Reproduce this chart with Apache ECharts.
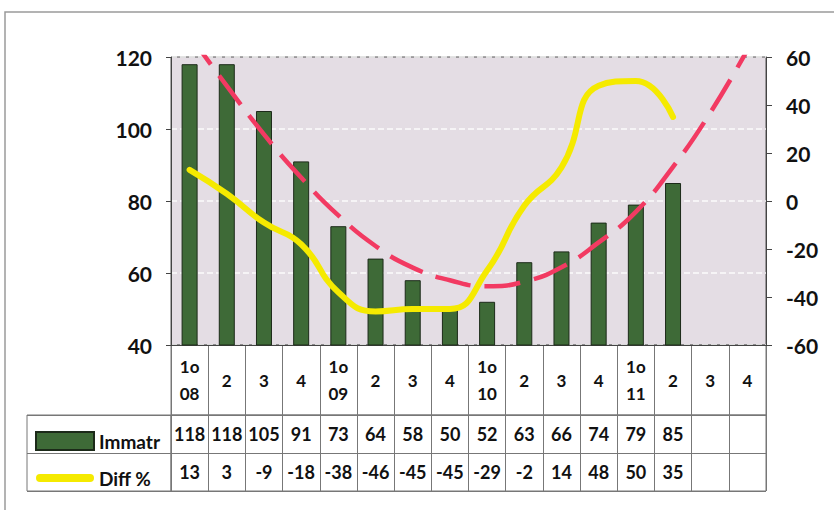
<!DOCTYPE html>
<html>
<head>
<meta charset="utf-8">
<style>
  html, body { margin: 0; padding: 0; background: #fff; }
  #chart { width: 834px; height: 510px; }
</style>
<script src="https://cdn.jsdelivr.net/npm/echarts@6/dist/echarts.min.js"></script>
</head>
<body>
<div id="chart"></div>
<script>
(function() {
  // quarters 2008 Q1 .. 2011 Q4
  var categories = ['08Q1', '08Q2', '08Q3', '08Q4', '09Q1', '09Q2', '09Q3', '09Q4',
                    '10Q1', '10Q2', '10Q3', '10Q4', '11Q1', '11Q2', '11Q3', '11Q4'];
  var catLabels = ['1o\n08', '2', '3', '4', '1o\n09', '2', '3', '4',
                   '1o\n10', '2', '3', '4', '1o\n11', '2', '3', '4'];
  var immatr = [118, 118, 105, 91, 73, 64, 58, 50, 52, 63, 66, 74, 79, 85];
  var diff = [13, 3, -9, -18, -38, -46, -45, -45, -29, -2, 14, 48, 50, 35];
  // hand-drawn trend (left axis)
  var trend = [126, 112, 98.5, 86.5, 76, 67.5, 61.5, 58, 56.3, 57.6, 61.6, 68.5, 77, 89.5, 104.5, 122];
  var leftTicks = [40, 120, 20];
  var rightTicks = [-60, 60, 20];

  var font = "Lato, 'Open Sans', Arial, sans-serif";
  var ink = '#111';
  var rule = '#777';

  var chart = echarts.init(document.getElementById('chart'), null, { renderer: 'svg' });

  function cell(arr) {
    return function(v, i) { return arr[i] == null ? '' : String(arr[i]); };
  }

  chart.setOption({
    animation: false,
    backgroundColor: '#fff',
    textStyle: { fontFamily: font },
    graphic: [{
      type: 'rect',
      shape: { x: 5, y: 12, width: 840, height: 510 },
      style: { fill: null, stroke: '#9a9a9a', lineWidth: 1.5 },
      z: -10
    }],
    legend: {
      orient: 'vertical',
      left: 30,
      top: 426,
      itemWidth: 58,
      itemHeight: 18,
      itemGap: 17,
      data: [
        { name: 'Immatr', icon: 'rect' },
        { name: 'Diff %', icon: 'path://M0,0 M0,18 M4,5 H54 A4,4 0 0 1 54,13 H4 A4,4 0 0 1 4,5 Z' }
      ],
      textStyle: { color: ink, fontSize: 19, lineHeight: 20, fontWeight: 'bold', fontFamily: font }
    },
    grid: [
      { left: 171, top: 57, width: 595, height: 288, show: true, backgroundColor: '#e4dde4', borderColor: '#555', borderWidth: 1 },
      { left: 171, top: 345, width: 595, height: 70, show: true, borderColor: rule, borderWidth: 1 },
      { left: 171, top: 415, width: 595, height: 76, show: true, borderColor: rule, borderWidth: 1 },
      { left: 27, top: 415, width: 144, height: 76, show: true, borderColor: rule, borderWidth: 1 }
    ],
    xAxis: [
      {
        type: 'category', gridIndex: 0, data: categories, position: 'bottom',
        axisLine: { onZero: false, lineStyle: { color: '#444' } },
        axisTick: { show: false },
        axisLabel: {
          interval: 0, margin: 35, verticalAlign: 'middle', lineHeight: 27,
          color: ink, fontSize: 17, fontWeight: 'bold', fontFamily: font,
          formatter: cell(catLabels)
        }
      },
      {
        type: 'category', gridIndex: 1, data: categories,
        axisLine: { show: false }, axisTick: { show: false }, axisLabel: { show: false },
        splitLine: { show: true, interval: 0, lineStyle: { color: rule } }
      },
      {
        type: 'category', gridIndex: 2, data: categories, position: 'top',
        axisLine: { show: false }, axisTick: { show: false },
        splitLine: { show: true, interval: 0, lineStyle: { color: rule } },
        axisLabel: {
          inside: true, interval: 0, margin: 19, verticalAlign: 'middle',
          color: ink, fontSize: 18, fontWeight: 'bold', fontFamily: font,
          formatter: cell(immatr)
        }
      },
      {
        type: 'category', gridIndex: 2, data: categories, position: 'bottom',
        axisLine: { show: false }, axisTick: { show: false },
        axisLabel: {
          inside: true, interval: 0, margin: 19, verticalAlign: 'middle',
          color: ink, fontSize: 18, fontWeight: 'bold', fontFamily: font,
          formatter: cell(diff)
        }
      },
      {
        type: 'category', gridIndex: 3, data: ['a'], show: false
      }
    ],
    yAxis: [
      {
        type: 'value', gridIndex: 0, min: leftTicks[0], max: leftTicks[1], interval: leftTicks[2],
        axisLine: { show: true, lineStyle: { color: '#444' } },
        axisTick: { show: true, length: 5, lineStyle: { color: '#444' } },
        axisLabel: { color: ink, fontSize: 21, fontWeight: 'bold', fontFamily: font, margin: 19 },
        splitLine: { show: true, lineStyle: { color: 'rgba(255,255,255,0.9)', type: 'dashed', width: 1.5 } }
      },
      {
        type: 'value', gridIndex: 0, min: rightTicks[0], max: rightTicks[1], interval: rightTicks[2],
        position: 'right',
        axisLine: { show: true, lineStyle: { color: '#444' } },
        axisTick: { show: true, length: 6, lineStyle: { color: '#444' } },
        axisLabel: { color: ink, fontSize: 21, fontWeight: 'bold', fontFamily: font, margin: 20 },
        splitLine: { show: false }
      },
      { type: 'value', gridIndex: 1, show: false },
      {
        type: 'category', gridIndex: 2, data: ['r2', 'r1'],
        axisLine: { show: false }, axisTick: { show: false }, axisLabel: { show: false },
        splitLine: { show: true, interval: 0, lineStyle: { color: rule } }
      },
      {
        type: 'category', gridIndex: 3, data: ['r2', 'r1'],
        axisLine: { show: false }, axisTick: { show: false }, axisLabel: { show: false },
        splitLine: { show: true, interval: 0, lineStyle: { color: rule } }
      }
    ],
    series: [
      {
        name: 'Immatr',
        type: 'bar',
        xAxisIndex: 0, yAxisIndex: 0,
        data: immatr,
        barWidth: 16,
        itemStyle: { color: '#3e6a37', borderColor: '#1c2a19', borderWidth: 1 }
      },
      {
        name: 'trend',
        type: 'line',
        xAxisIndex: 0, yAxisIndex: 0,
        data: trend,
        smooth: 0.5,
        symbol: 'none',
        clip: true,
        lineStyle: { color: '#f23a62', width: 4.5, type: [36, 14] },
        z: 3
      },
      {
        name: 'Diff %',
        type: 'line',
        xAxisIndex: 0, yAxisIndex: 1,
        data: diff,
        smooth: 0.5,
        symbol: 'none',
        lineStyle: { color: '#f5ea00', width: 6, cap: 'round' },
        itemStyle: { color: '#f5ea00' },
        z: 4
      }
    ]
  });
})();
</script>
</body>
</html>
